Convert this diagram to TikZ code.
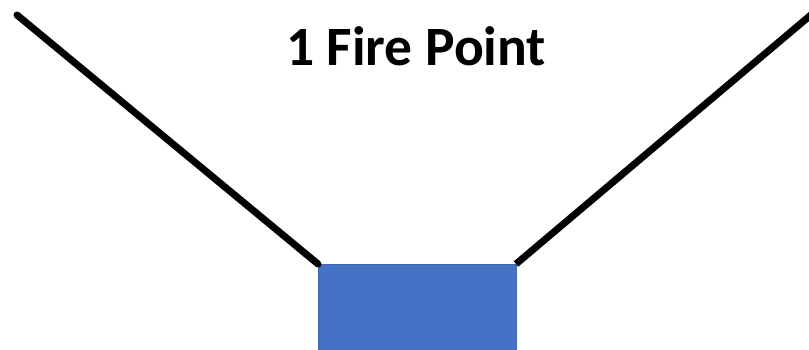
\documentclass[tikz,border=0pt]{standalone}
\usepackage{fontspec}
\setmainfont{Carlito}
\definecolor{officeblue}{HTML}{4472C4}
\definecolor{officeedge}{HTML}{3F67B0}
\begin{document}
\begin{tikzpicture}[x=1pt,y=-1pt,
  wall/.style={line width=7pt,line cap=round,black},
  basebox/.style={fill=officeblue,draw=officeedge,line width=0.6pt}]
\useasboundingbox (0,0) rectangle (809,349);
\fill[white] (0,0) rectangle (809,349);
\fill[basebox] (318,264) rectangle (516,352);
\coordinate (bl) at (318,264);
\coordinate (br) at (516,264);
\coordinate (tl) at (17,15);
\coordinate (tr) at (812,14);
\draw[wall] (tl) -- (bl);
\draw[wall,line cap=butt] (br) -- (tr);
\node[anchor=base,font=\bfseries\fontsize{55.5}{60}\selectfont,inner sep=0pt] (title) at (416,65) {1 Fire Point};
\end{tikzpicture}
\end{document}
